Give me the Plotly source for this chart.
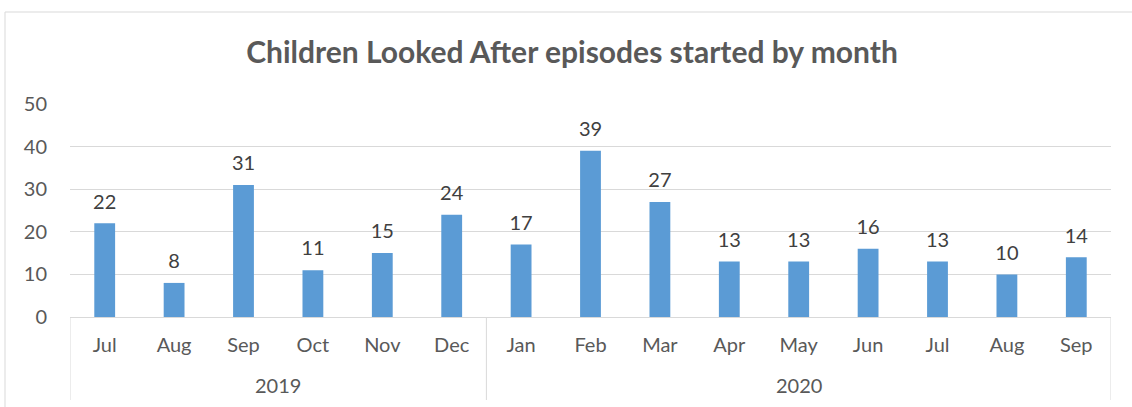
import plotly.graph_objects as go

years = ["2019"] * 6 + ["2020"] * 9
months = ["Jul", "Aug", "Sep", "Oct", "Nov", "Dec",
          "Jan", "Feb", "Mar", "Apr", "May", "Jun", "Jul", "Aug", "Sep"]
episodes = [22, 8, 31, 11, 15, 24, 17, 39, 27, 13, 13, 16, 13, 10, 14]
y_ticks = [0, 10, 20, 30, 40, 50]

FONT = "Lato, Carlito, 'Noto Sans', sans-serif"
GREY = "#595959"
LINE = "#D9D9D9"

idx = list(range(len(months)))

fig = go.Figure()
fig.add_trace(go.Bar(
    x=idx, y=episodes,
    marker=dict(color="#5B9BD5", line=dict(width=0)),
    hoverinfo="skip",
))
fig.add_trace(go.Scatter(
    x=idx, y=episodes, mode="markers+text",
    marker=dict(size=14, opacity=0),
    text=[str(v) for v in episodes],
    textposition="top center",
    textfont=dict(family=FONT, size=20, color="#404040"),
    cliponaxis=False, hoverinfo="skip",
))

# year group labels and dividers, derived from the year list
groups = []
for i, yv in enumerate(years):
    if not groups or groups[-1][0] != yv:
        groups.append([yv, i, i])
    else:
        groups[-1][2] = i

shapes = [dict(type="rect", xref="paper", yref="paper",
               x0=-65 / 1041, x1=1.2, y0=-1.0, y1=1 + 92 / 213,
               line=dict(color=LINE, width=1), fillcolor="rgba(0,0,0,0)",
               layer="below")]
annotations = []
bounds = sorted({g[1] - 0.5 for g in groups} | {g[2] + 0.5 for g in groups})
for b in bounds:
    shapes.append(dict(type="line", xref="x", yref="paper",
                       x0=b, x1=b, y0=0, y1=-83 / 213,
                       line=dict(color=LINE, width=1)))
for name, a, b in groups:
    annotations.append(dict(x=(a + b) / 2, xref="x", y=-68 / 213, yref="paper",
                            text=name, showarrow=False, yanchor="middle",
                            font=dict(family=FONT, size=20, color=GREY)))

fig.update_layout(
    width=1132, height=407,
    margin=dict(l=70, r=21, t=104, b=90),
    paper_bgcolor="white", plot_bgcolor="white",
    bargap=0.70,
    showlegend=False,
    title=dict(
        text="<b>Children Looked After episodes started by month</b>",
        font=dict(family=FONT, size=30, color=GREY),
        x=572 / 1132, xanchor="center", xref="container",
        y=1 - 52 / 407, yanchor="middle", yref="container",
    ),
    font=dict(family=FONT, size=20, color=GREY),
    shapes=shapes,
    annotations=annotations,
)

fig.update_yaxes(
    range=[0, 50], tickvals=y_ticks,
    showgrid=True, gridcolor=LINE, gridwidth=1,
    zeroline=False, showline=False,
    tickfont=dict(family=FONT, size=20, color=GREY),
    ticks="", ticklabelstandoff=22, automargin=False,
)
fig.update_xaxes(
    range=[-0.5, len(months) - 0.5],
    tickvals=idx, ticktext=months,
    showline=True, linecolor=LINE, linewidth=1,
    ticks="", showgrid=False, zeroline=False,
    ticklabelstandoff=10, automargin=False,
    tickfont=dict(family=FONT, size=20, color=GREY),
)

fig.write_html(
    "out.html",
    config={"displayModeBar": False},
    post_script="document.body.style.margin='0';document.body.style.overflow='hidden';",
)
